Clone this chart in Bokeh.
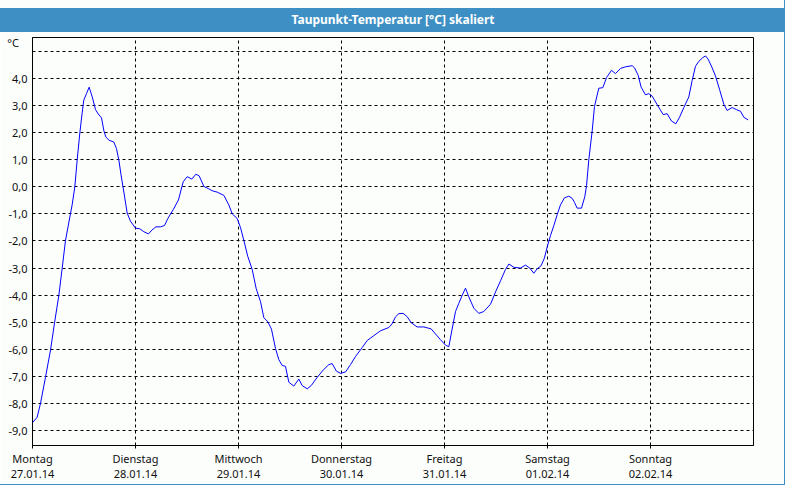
from bokeh.plotting import figure
from bokeh.models import Range1d, FixedTicker, Title
from bokeh.embed import file_html
from bokeh.resources import INLINE

# --- data (time in days since Montag 27.01.14 00:00, dew point in °C) ---
days = [0.000, 0.045, 0.078, 0.126, 0.175, 0.214, 0.256, 0.288, 0.320, 0.369,
        0.385, 0.411, 0.434, 0.460, 0.482, 0.498, 0.524, 0.550, 0.580, 0.612,
        0.638, 0.670, 0.693, 0.712, 0.744, 0.789, 0.815, 0.838, 0.861, 0.887,
        0.919, 0.951, 1.000, 1.042, 1.081, 1.126, 1.159, 1.198, 1.243, 1.282,
        1.314, 1.366, 1.417, 1.463, 1.502, 1.547, 1.586, 1.618, 1.664, 1.712,
        1.745, 1.793, 1.858, 1.906, 1.939, 1.987, 2.019, 2.052, 2.090, 2.133,
        2.172, 2.214, 2.246, 2.285, 2.320, 2.359, 2.392, 2.424, 2.456, 2.489,
        2.537, 2.586, 2.618, 2.667, 2.706, 2.764, 2.822, 2.877, 2.909, 2.951,
        2.990, 3.039, 3.087, 3.136, 3.201, 3.249, 3.314, 3.379, 3.460, 3.492,
        3.524, 3.556, 3.598, 3.637, 3.676, 3.734, 3.799, 3.870, 3.913, 3.961,
        4.010, 4.042, 4.074, 4.107, 4.139, 4.172, 4.204, 4.236, 4.285, 4.333,
        4.382, 4.447, 4.495, 4.544, 4.592, 4.625, 4.673, 4.738, 4.786, 4.828,
        4.867, 4.899, 4.938, 4.970, 4.997, 5.029, 5.061, 5.094, 5.126, 5.165,
        5.207, 5.240, 5.262, 5.288, 5.330, 5.362, 5.379, 5.401, 5.434, 5.456,
        5.498, 5.537, 5.573, 5.621, 5.660, 5.709, 5.757, 5.822, 5.845, 5.880,
        5.909, 5.951, 5.984, 6.016, 6.065, 6.123, 6.162, 6.204, 6.246, 6.282,
        6.324, 6.372, 6.404, 6.437, 6.469, 6.508, 6.534, 6.560, 6.599, 6.631,
        6.673, 6.712, 6.744, 6.793, 6.835, 6.874, 6.906, 6.948]

taupunkt = [-8.70, -8.50, -7.98, -7.03, -6.02, -5.02, -4.00, -3.01, -1.99, -0.99,
            -0.67, 0.00, 0.99, 2.00, 2.72, 3.19, 3.43, 3.67, 3.31, 2.84,
            2.68, 2.54, 2.06, 1.83, 1.71, 1.65, 1.41, 0.99, 0.40, -0.20,
            -0.97, -1.27, -1.53, -1.55, -1.66, -1.74, -1.60, -1.48, -1.48, -1.43,
            -1.17, -0.85, -0.49, 0.18, 0.37, 0.28, 0.46, 0.40, 0.01, -0.08,
            -0.15, -0.20, -0.32, -0.67, -1.00, -1.17, -1.50, -1.98, -2.57, -3.05,
            -3.76, -4.24, -4.83, -4.98, -5.25, -5.96, -6.38, -6.59, -6.62, -7.21,
            -7.35, -7.09, -7.33, -7.45, -7.33, -7.03, -6.76, -6.56, -6.52, -6.80,
            -6.88, -6.83, -6.56, -6.26, -5.93, -5.67, -5.49, -5.31, -5.19, -5.05,
            -4.80, -4.68, -4.67, -4.79, -5.01, -5.17, -5.17, -5.24, -5.43, -5.64,
            -5.84, -5.90, -5.25, -4.60, -4.30, -4.00, -3.74, -4.06, -4.48, -4.67,
            -4.60, -4.33, -3.88, -3.47, -3.05, -2.85, -2.97, -3.00, -2.89, -3.00,
            -3.19, -3.03, -2.91, -2.63, -2.22, -1.80, -1.44, -1.03, -0.67, -0.41,
            -0.35, -0.43, -0.58, -0.79, -0.79, -0.37, 0.04, 0.99, 2.06, 2.95,
            3.63, 3.65, 4.02, 4.29, 4.17, 4.36, 4.42, 4.46, 4.38, 4.11,
            3.67, 3.39, 3.43, 3.34, 3.02, 2.66, 2.69, 2.42, 2.32, 2.56,
            2.92, 3.31, 3.91, 4.44, 4.62, 4.76, 4.82, 4.70, 4.38, 4.08,
            3.55, 3.04, 2.81, 2.92, 2.84, 2.78, 2.56, 2.46]

day_ticks = [0, 1, 2, 3, 4, 5, 6]
day_names = ["Montag", "Dienstag", "Mittwoch", "Donnerstag", "Freitag", "Samstag", "Sonntag"]
day_dates = ["27.01.14", "28.01.14", "29.01.14", "30.01.14", "31.01.14", "01.02.14", "02.02.14"]

grid_y = [-9, -8, -7, -6, -5, -4, -3, -2, -1, 0, 1, 2, 3, 4, 5]
y_ticks = [-9, -8, -7, -6, -5, -4, -3, -2, -1, 0, 1, 2, 3, 4]
y_labels = ["-9,0", "-8,0", "-7,0", "-6,0", "-5,0", "-4,0", "-3,0", "-2,0", "-1,0",
            "0,0", "1,0", "2,0", "3,0", "4,0"]

title_text = "Taupunkt-Temperatur [°C] skaliert"
unit_text = "°C"
unit_pos = 5.32

BLUE = "#3d8fc4"
BG = "#fcfefc"
FONT = "Noto Sans"

p = figure(width=784, height=484,
           x_range=Range1d(0, 7), y_range=Range1d(-9.54, 5.5),
           output_backend="svg", toolbar_location=None,
           min_border_left=32, min_border_right=31, min_border_top=32,
           min_border_bottom=30,
           background_fill_color=BG, border_fill_color=BG,
           outline_line_color="black", outline_line_width=1,
           styles={"outline": "1px solid " + BLUE})

p.title = Title(text=title_text, align="center", text_color="white",
                text_font=FONT, text_font_size="12px", text_font_style="bold",
                background_fill_color=BLUE,
                padding=dict(left=420, right=420, top=3, bottom=4),
                standoff=11, offset=0)

p.line(days, taupunkt, line_color="#0000ff", line_width=1)

# axes
p.xaxis.ticker = FixedTicker(ticks=day_ticks)
p.xaxis.major_label_overrides = {t: n + "\n" + d for t, n, d in zip(day_ticks, day_names, day_dates)}
p.yaxis.ticker = FixedTicker(ticks=y_ticks + [unit_pos])
overrides = {t: l for t, l in zip(y_ticks, y_labels)}
overrides[unit_pos] = unit_text + "\u00a0\u00a0\u00a0"
p.yaxis.major_label_overrides = overrides

for ax in (p.xaxis, p.yaxis):
    ax.axis_line_color = "black"
    ax.major_tick_line_color = "black"
    ax.major_tick_in = 0
    ax.minor_tick_line_color = None
    ax.major_label_text_font = FONT
    ax.major_label_text_font_size = "11px"
    ax.major_label_text_color = "#101010"

p.xaxis.major_tick_out = 3
p.xaxis.major_label_standoff = 2
p.xaxis.major_label_text_line_height = 1.05
p.yaxis.major_tick_out = 0
p.yaxis.major_label_standoff = 5

# grid
p.xgrid.ticker = FixedTicker(ticks=day_ticks)
p.ygrid.ticker = FixedTicker(ticks=grid_y)
for g in (p.xgrid, p.ygrid):
    g.grid_line_color = "black"
    g.grid_line_dash = "3 3"
    g.grid_line_width = 1

open("out.html", "w").write(file_html(p, INLINE))
